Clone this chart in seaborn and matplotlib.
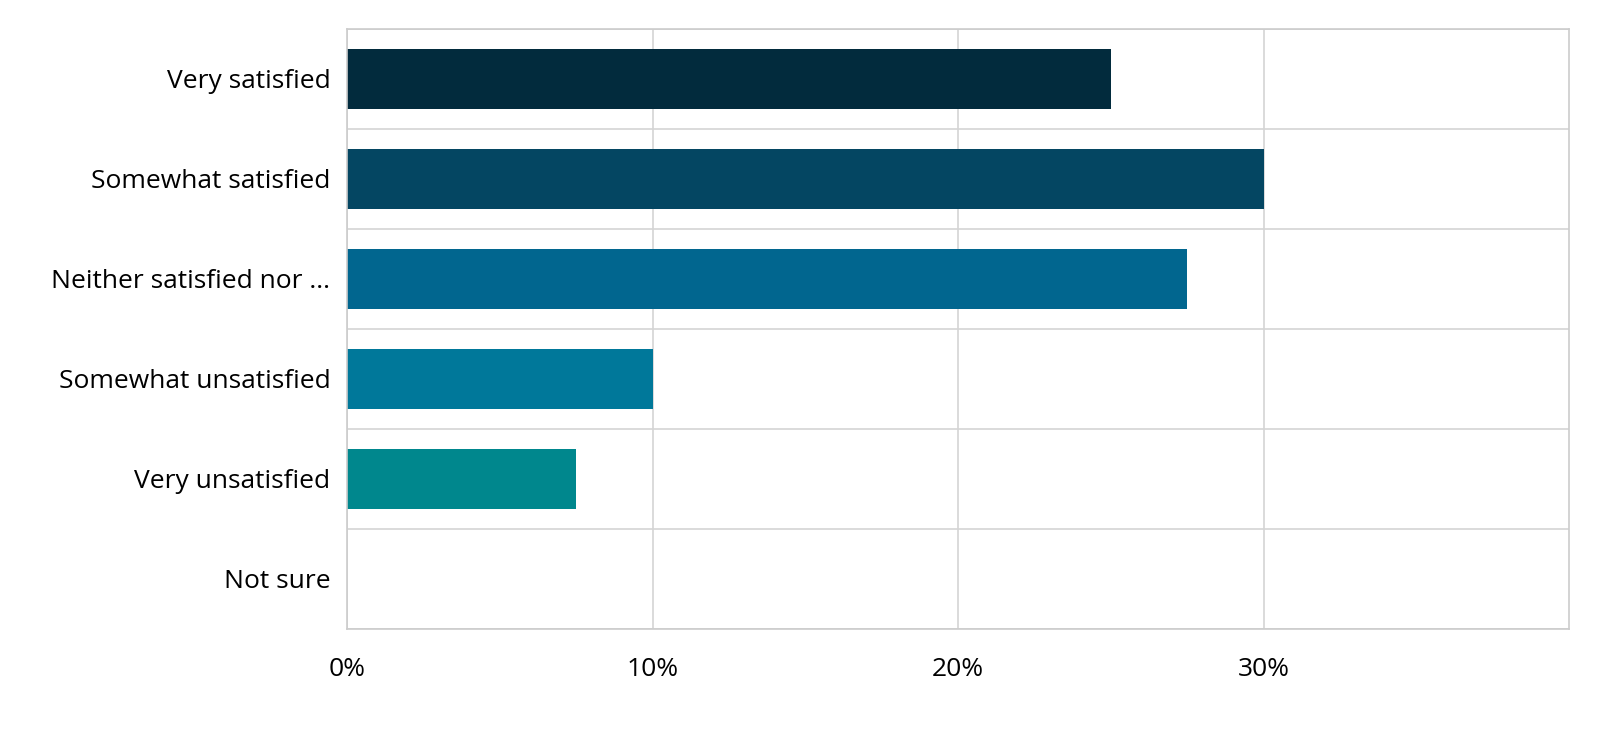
import matplotlib
matplotlib.use("Agg")
import matplotlib.pyplot as plt
import seaborn as sns
import pandas as pd
import numpy as np
from matplotlib.ticker import FixedLocator, PercentFormatter

categories = ["Very satisfied", "Somewhat satisfied", "Neither satisfied nor ...",
              "Somewhat unsatisfied", "Very unsatisfied", "Not sure"]
values = [25.0, 30.0, 27.5, 10.0, 7.5, 0.0]
colors = ["#022b3d", "#044662", "#01668f", "#00789a", "#00878d", "#00968a"]
x_ticks = [0, 10, 20, 30]

sns.set_theme(style="white")
plt.rcParams['font.family'] = ['Open Sans', 'DejaVu Sans']

df = pd.DataFrame({"category": categories, "value": values})

fig = plt.figure(figsize=(16, 7.38), dpi=100)
ax = fig.add_axes([347/1600, 1-629/738, (1569-347)/1600, (629-29)/738])

sns.barplot(data=df, y="category", x="value", hue="category", palette=colors,
            order=categories, hue_order=categories, orient="h", width=0.6,
            legend=False, ax=ax, saturation=1, edgecolor="none", linewidth=0)

ax.set_xlim(0, 40)
ax.set_ylim(len(categories) - 0.5, -0.5)
ax.xaxis.set_major_locator(FixedLocator(x_ticks))
ax.xaxis.set_major_formatter(PercentFormatter(decimals=0))
ax.yaxis.set_minor_locator(FixedLocator(np.arange(-0.5, len(categories), 1.0)))
ax.set_axisbelow(True)
ax.grid(axis="x", which="major", color="#d4d4d4", linewidth=1.2)
ax.grid(axis="y", which="minor", color="#d4d4d4", linewidth=1.2)
ax.grid(axis="y", which="major", visible=False)
for sp in ax.spines.values():
    sp.set_color("#cccccc")
    sp.set_linewidth(1.2)
ax.set_xlabel("")
ax.set_ylabel("")
ax.tick_params(axis="both", which="both", length=0, labelsize=19, colors="#000000")
ax.tick_params(axis="x", pad=20)
ax.tick_params(axis="y", pad=12)

fig.savefig("out.png", dpi=100, facecolor="white")
